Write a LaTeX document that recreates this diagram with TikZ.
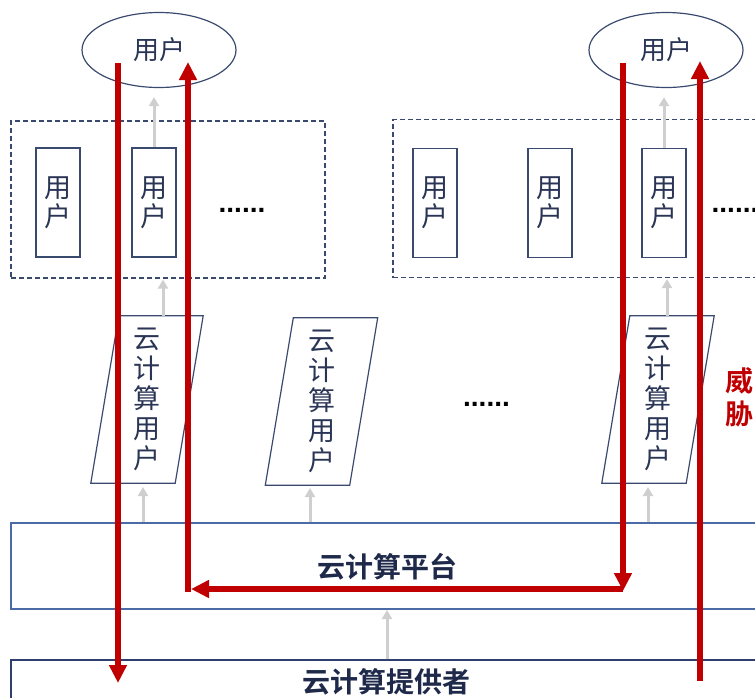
\documentclass[tikz,border=0pt]{standalone}
\usepackage{fontspec}
\newfontfamily\cjk{Noto Sans CJK SC}[BoldFont={Noto Sans CJK SC Bold}]
\newfontfamily\dotfont{Liberation Sans}
\usetikzlibrary{arrows.meta,shapes.geometric,calc}
\definecolor{navy}{HTML}{3A4A6E}
\definecolor{txt}{HTML}{2A3555}
\definecolor{boldtxt}{HTML}{1F2A4A}
\definecolor{redarr}{HTML}{C00000}
\definecolor{grayarr}{HTML}{CFCFCF}
\definecolor{platline}{HTML}{4A6AA8}
\definecolor{provline}{HTML}{2E3F6E}
\newcommand\parabox[3]{%
  \node[ptext] (#1) at (#2,#3) {云\\计\\算\\用\\户};
  \draw[pline] ($(#1.north west)+(14,0)$) -- ($(#1.north east)+(14,0)$)
     -- ($(#1.south east)+(-14,0)$) -- ($(#1.south west)+(-14,0)$) -- cycle;
}
\begin{document}
\begin{tikzpicture}[x=1pt,y=-1pt,
  usr/.style={ellipse, draw=navy, line width=1.2pt, minimum width=154pt, minimum height=75pt, inner sep=0pt, font=\cjk\fontsize{26}{30}\selectfont, text=txt},
  ubox/.style={draw=navy, line width=1.2pt, minimum width=44pt, minimum height=109pt, inner sep=0pt, align=center, font=\cjk\fontsize{27}{29}\selectfont, text=txt},
  grp/.style={draw=navy, line width=1.2pt, dash pattern=on 5pt off 3pt, inner sep=0pt},
  ptext/.style={minimum width=84pt, minimum height=167pt, inner sep=0pt, align=center, font=\cjk\fontsize{27}{30}\selectfont, text=txt},
  pline/.style={draw=navy, line width=1.2pt},
  layer/.style={draw=#1, line width=1.2pt, inner sep=0pt},
  btext/.style={font=\cjk\bfseries\fontsize{28}{30}\selectfont, text=boldtxt, inner sep=0pt},
  dotsn/.style={font=\dotfont\bfseries\fontsize{28}{30}\selectfont, text=black, inner sep=0pt},
  rarr/.style={draw=redarr, line width=5.5pt, -{Triangle[width=17pt,length=18pt]}},
  rline/.style={draw=redarr, line width=5.5pt},
  garr/.style={draw=grayarr, line width=3pt, -{Triangle[width=10pt,length=9pt]}},
  threat/.style={font=\cjk\bfseries\fontsize{28}{33}\selectfont, text=redarr, align=center, inner sep=0pt}
]
\useasboundingbox (0,0) rectangle (755,697);
\clip (0,0) rectangle (755,697);

% users at top
\node[usr] (e1) at (159,50) {用户};
\node[usr] (e2) at (666,50) {用户};

% dashed groups
\node[grp, minimum width=314pt, minimum height=157pt] (g1) at (168,199.5) {};
\node[grp, minimum width=407pt, minimum height=158pt] (g2) at (596.5,198.5) {};

% user boxes
\node[ubox] (u1) at (58,202.5) {用\\户};
\node[ubox] (u2) at (154,202.5) {用\\户};
\node[ubox] (u3) at (435,203) {用\\户};
\node[ubox] (u4) at (550,203) {用\\户};
\node[ubox] (u5) at (664,203) {用\\户};
\node[dotsn] (d1) at (242,210) {......};
\node[dotsn] (d3) at (735,210) {......};

% cloud users
\parabox{p1}{147}{399.5}
\parabox{p2}{321.5}{401.5}
\parabox{p3}{658}{399.5}
\node[dotsn] (d2) at (486.5,404) {......};

% layers
\node[layer=platline, minimum width=789pt, minimum height=86pt] (plat) at (405.5,566) {};
\node[layer=provline, minimum width=789pt, minimum height=100pt] (prov) at (405.5,710) {};
\node[btext] (platt) at (387.5,567) {云计算平台};
\node[btext] (provt) at (386.5,682) {云计算提供者};

% gray arrows
\draw[garr, shorten >=9pt] (u2.north) -- (u2.north |- e1.south);
\draw[garr, shorten >=9pt] (u5.north) -- (u5.north |- e2.south);
\coordinate (p1t) at (163,316);
\coordinate (p3t) at (667,316);
\draw[garr, shorten >=1pt] (p1t) -- (p1t |- g1.south);
\draw[garr, shorten >=1pt] (p3t) -- (p3t |- g2.south);
\coordinate (p1b) at (143,487);
\coordinate (p2b) at (310,488);
\coordinate (p3b) at (648,487);
\draw[garr] (plat.north -| p1b) -- (p1b);
\draw[garr] (plat.north -| p2b) -- (p2b);
\draw[garr] (plat.north -| p3b) -- (p3b);
\coordinate (plb) at (387,610);
\draw[garr] (prov.north -| plb) -- (plb);

% red arrows
\coordinate (r1s) at (118,63);
\coordinate (r1e) at (118,683);
\draw[rarr] (r1s) -- (r1e);
\coordinate (r2a) at (623,63);
\coordinate (r2b) at (623,591);
\coordinate (r2c) at (623,589);
\coordinate (r2d) at (191,589);
\coordinate (r2e) at (188,591.75);
\coordinate (r2f) at (188,62);
\draw[rarr] (r2a) -- (r2b);
\draw[rarr] (r2c) -- (r2d);
\draw[rarr] (r2e) -- (r2f);
\coordinate (r3s) at (700,681);
\coordinate (r3e) at (700,61);
\draw[rarr] (r3s) -- (r3e);
\node[threat] (thr) at (739,397.5) {威\\胁};
\end{tikzpicture}
\end{document}
